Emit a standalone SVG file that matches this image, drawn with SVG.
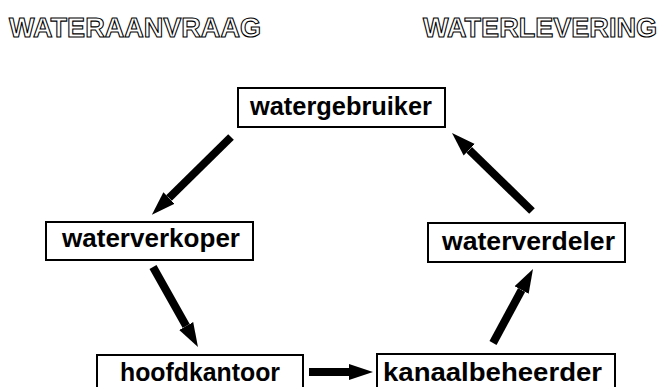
<svg xmlns="http://www.w3.org/2000/svg" width="665" height="387" viewBox="0 0 665 387">
  <style>
    .hdr { font-family: "Liberation Sans", Arial, sans-serif; font-size: 28px; font-weight: bold; fill: #fff; stroke: #000; stroke-width: 1.1; }
    .box { fill: #fff; stroke: #000; stroke-width: 2; }
    .lbl { font-family: "Liberation Sans", Arial, sans-serif; font-size: 25px; font-weight: bold; fill: #000; }
    .arrow { stroke: #000; stroke-width: 8; fill: none; marker-end: url(#head); }
  </style>
  <defs>
    <marker id="head" markerUnits="userSpaceOnUse" markerWidth="26" markerHeight="18" refX="0" refY="8" orient="auto" viewBox="0 -1 26 18">
      <path d="M0,0 L24,8 L0,16 Z" fill="#000"/>
    </marker>
  </defs>
  <rect width="665" height="387" fill="#fff"/>

  <!-- column headings -->
  <text class="hdr" x="9" y="37" textLength="252" lengthAdjust="spacingAndGlyphs">WATERAANVRAAG</text>
  <text class="hdr" x="423" y="37" textLength="234" lengthAdjust="spacingAndGlyphs">WATERLEVERING</text>

  <!-- connectors -->
  <g id="connectors">
    <line class="arrow" x1="231" y1="137" x2="169" y2="198"/>
    <line class="arrow" x1="153" y1="267" x2="186.2" y2="326"/>
    <line class="arrow" x1="309" y1="372" x2="349" y2="372"/>
    <line class="arrow" x1="493" y1="343" x2="521.6" y2="290"/>
    <line class="arrow" x1="532" y1="211" x2="469.2" y2="149.8"/>
  </g>

  <g id="watergebruiker">
    <rect class="box" x="238" y="88" width="207" height="39"/>
    <text class="lbl" x="250" y="115" textLength="182" lengthAdjust="spacingAndGlyphs">watergebruiker</text>
  </g>
  <g id="waterverkoper">
    <rect class="box" x="46" y="222" width="207" height="38"/>
    <text class="lbl" x="62" y="247" textLength="178" lengthAdjust="spacingAndGlyphs">waterverkoper</text>
  </g>
  <g id="hoofdkantoor">
    <rect class="box" x="97" y="355" width="206" height="40"/>
    <text class="lbl" x="120" y="381" textLength="160" lengthAdjust="spacingAndGlyphs">hoofdkantoor</text>
  </g>
  <g id="kanaalbeheerder">
    <rect class="box" x="377" y="354" width="238" height="41"/>
    <text class="lbl" x="383" y="381" textLength="219" lengthAdjust="spacingAndGlyphs">kanaalbeheerder</text>
  </g>
  <g id="waterverdeler">
    <rect class="box" x="428" y="223" width="197" height="39"/>
    <text class="lbl" x="442" y="250" textLength="173" lengthAdjust="spacingAndGlyphs">waterverdeler</text>
  </g>
</svg>
